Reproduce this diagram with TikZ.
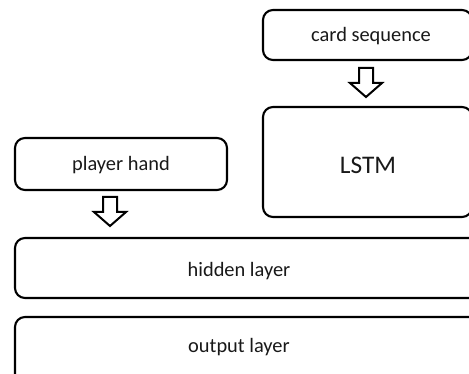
\documentclass[tikz,border=0pt]{standalone}
\usepackage{fontspec}
\setmainfont{Carlito}
\usetikzlibrary{calc}
\tikzset{
  box/.style={draw=black, line width=1.6pt, rounded corners=7.5pt},
  label/.style={font=\fontsize{15.3}{18}\selectfont, text=black!90, inner sep=0pt},
  biglabel/.style={font=\fontsize{19}{22}\selectfont, text=black!90, inner sep=0pt},
  blockarrow/.style={draw=black, line width=1.5pt, fill=white, line join=miter}
}
% block arrow pointing down, drawn from its top centre (offsets in picture units)
\newcommand{\downblock}[1]{%
  \draw[blockarrow] ($(#1)+(-7,0)$) -- ($(#1)+(-7,15)$) -- ($(#1)+(-16,15)$)
    -- ($(#1)+(0,29)$) -- ($(#1)+(16,15)$) -- ($(#1)+(7,15)$)
    -- ($(#1)+(7,0)$) -- cycle;}
\begin{document}
\begin{tikzpicture}[x=0.75pt, y=-0.75pt]
  \useasboundingbox (0,0) rectangle (469,374);
  \clip (0,0) rectangle (469,374);
  \fill[white] (0,0) rectangle (469,374);

  % boxes
  \draw[box] (263,10) rectangle (472,60);
  \node[label] (card) at (371,36) {card sequence};
  \coordinate (cardS) at (366,60);

  \draw[box] (263,107) rectangle (472,217);
  \node[biglabel] (lstm) at (368,165) {LSTM};
  \coordinate (lstmN) at (366,107);

  \draw[box] (15,138) rectangle (227,190);
  \node[label] (hand) at (121,165) {player hand};
  \coordinate (handS) at (110,190);

  \draw[box] (15,238) rectangle (490,298);
  \node[label] (hidden) at (239,271) {hidden layer};
  \coordinate (hiddenN) at (110,238);

  \draw[box] (15,317) rectangle (490,400);
  \node[label] (output) at (239,347) {output layer};

  % arrows between the boxes
  \coordinate (a1) at ($(cardS)+(0,8)$);
  \downblock{a1}
  \coordinate (a2) at ($(handS)+(0,7)$);
  \downblock{a2}
\end{tikzpicture}
\end{document}
